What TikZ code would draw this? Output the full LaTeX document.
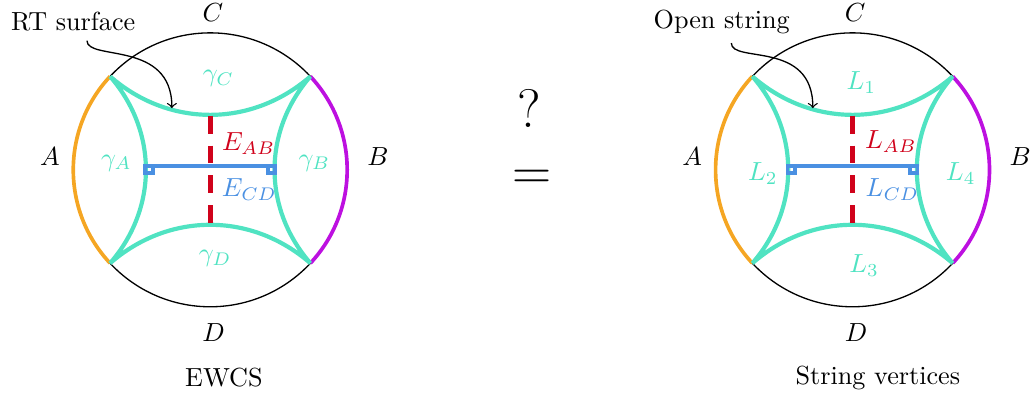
\documentclass[tikz,border=0pt]{standalone}
\definecolor{rtgreen}{HTML}{50E3C2}
\definecolor{abred}{HTML}{D0021B}
\definecolor{cdblue}{HTML}{4A90E2}
\definecolor{aorange}{HTML}{F5A623}
\definecolor{bpurple}{HTML}{BD10E0}
\begin{document}
\begin{tikzpicture}[scale=0.92,
  geod/.style={rtgreen, line width=1.6pt},
  bndA/.style={aorange, line width=1.4pt},
  bndB/.style={bpurple, line width=1.4pt},
  abline/.style={abred, line width=2pt, dash pattern=on 6.8pt off 4.6pt},
  cdline/.style={cdblue, line width=1.4pt},
  pointer/.style={->, line width=0.5pt}]
  \useasboundingbox (-3.07,-3.37) rectangle (12.03,2.48);

  % ---------- Left disk (EWCS) ----------
  \draw[line width=0.5pt] (0,0) circle (2);
  \draw[bndA] (137:2) arc (137:223:2);
  \draw[bndB] (-43:2) arc (-43:43:2);
  \draw[geod] (137:2) to[bend right=41] (43:2) to[bend right=41] (-43:2)
    to[bend right=41] (223:2) to[bend right=41] cycle;
  % cross sections
  \draw[abline] (0,0.79) -- (0,-0.79);
  \coordinate (cdL) at (-0.95,0.06);
  \coordinate (cdR) at (0.95,0.06);
  \draw[cdline] (cdL) -- (cdR);
  \draw[cdline] (cdL) rectangle ++(0.11,-0.11);
  \draw[cdline] (cdR) rectangle ++(-0.11,-0.11);
  \node (lC) at (0.04,2.29) {$C$};
  \node (lA) at (-2.34,0.19) {$A$};
  \node (lB) at (2.45,0.19) {$B$};
  \node (lD) at (0.05,-2.38) {$D$};
  \node[rtgreen] (gC) at (0.12,1.33) {$\gamma_C$};
  \node[rtgreen] (gA) at (-1.37,0.1) {$\gamma_A$};
  \node[rtgreen] (gB) at (1.52,0.1) {$\gamma_B$};
  \node[rtgreen] (gD) at (0.07,-1.3) {$\gamma_D$};
  \node[abred] (eAB) at (0.56,0.39) {$E_{AB}$};
  \node[cdblue] (eCD) at (0.57,-0.29) {$E_{CD}$};
  \node (ewcs) at (0.2,-3.04) {EWCS};
  \node (rt) at (-2.0,2.16) {RT surface};
  \coordinate (rtTip) at (-0.56,0.9);
  \draw[pointer] ([xshift=2mm]rt.south) .. controls +(0,-0.3) and +(0,1.0) .. (rtTip);

  % ---------- Middle ----------
  \node[font=\huge] (qm) at (4.66,0.89) {?};
  \node[font=\huge] (eq) at (4.70,-0.15) {$=$};

  % ---------- Right disk (string vertices) ----------
  \begin{scope}[xshift=9.38cm]
    \draw[line width=0.5pt] (0,0) circle (2);
    \draw[bndA] (137:2) arc (137:223:2);
    \draw[bndB] (-43:2) arc (-43:43:2);
    \draw[geod] (137:2) to[bend right=41] (43:2) to[bend right=41] (-43:2)
      to[bend right=41] (223:2) to[bend right=41] cycle;
    % cross sections
    \draw[abline] (0,0.79) -- (0,-0.79);
    \coordinate (lcdL) at (-0.95,0.06);
    \coordinate (lcdR) at (0.95,0.06);
    \draw[cdline] (lcdL) -- (lcdR);
    \draw[cdline] (lcdL) rectangle ++(0.11,-0.11);
    \draw[cdline] (lcdR) rectangle ++(-0.11,-0.11);
    \node (rC) at (0.04,2.29) {$C$};
    \node (rA) at (-2.34,0.19) {$A$};
    \node (rB) at (2.45,0.19) {$B$};
    \node (rD) at (0.05,-2.38) {$D$};
    \node[rtgreen] (L1) at (0.13,1.28) {$L_1$};
    \node[rtgreen] (L2) at (-1.31,-0.06) {$L_2$};
    \node[rtgreen] (L4) at (1.58,-0.06) {$L_4$};
    \node[rtgreen] (L3) at (0.17,-1.4) {$L_3$};
    \node[abred] (lAB) at (0.56,0.41) {$L_{AB}$};
    \node[cdblue] (lCD) at (0.58,-0.29) {$L_{CD}$};
    \node (sv) at (0.37,-3.04) {String vertices};
    \node (os) at (-1.91,2.16) {Open string};
    \coordinate (osTip) at (-0.58,0.9);
    \draw[pointer] ([xshift=1.4mm]os.south) .. controls +(0,-0.3) and +(0,1.0) .. (osTip);
  \end{scope}
\end{tikzpicture}
\end{document}
